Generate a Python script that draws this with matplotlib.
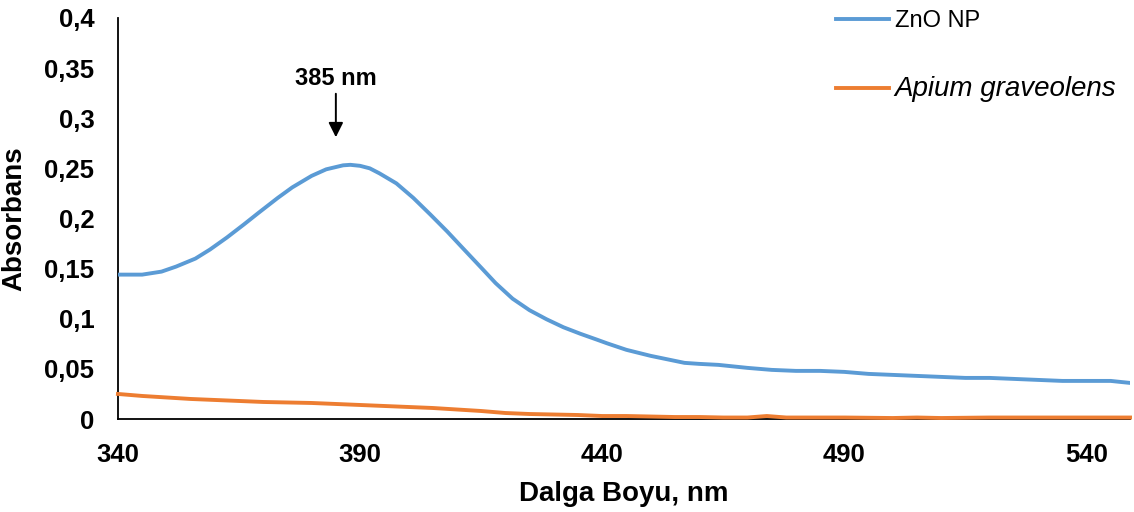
import matplotlib
matplotlib.use('Agg')
import matplotlib.pyplot as plt

plt.rcParams['font.family'] = ['Liberation Sans', 'DejaVu Sans']

# ZnO NP absorbance
wl_zno = [340, 345, 349, 352, 356, 359, 362.5, 366, 369, 373, 376, 380, 383,
          386.5, 388, 390, 392, 394, 397.5, 401, 404.5, 408, 411, 415, 418,
          421.5, 425, 428.5, 432, 435.5, 439, 441, 445, 450, 455, 457, 460,
          464, 470, 475, 480, 485, 490, 495, 500, 505, 510, 515, 520, 525,
          530, 535, 540, 545, 549]
abs_zno = [0.144, 0.144, 0.147, 0.152, 0.160, 0.169, 0.181, 0.194, 0.2055,
           0.2205, 0.231, 0.2425, 0.249, 0.253, 0.2535, 0.2525, 0.250, 0.245,
           0.235, 0.2205, 0.204, 0.187, 0.1715, 0.151, 0.1355, 0.120, 0.1085,
           0.0995, 0.0915, 0.085, 0.079, 0.0755, 0.069, 0.063, 0.058, 0.056,
           0.055, 0.054, 0.051, 0.049, 0.048, 0.048, 0.047, 0.045, 0.044,
           0.043, 0.042, 0.041, 0.041, 0.040, 0.039, 0.038, 0.038, 0.038,
           0.036]

# Apium graveolens extract absorbance
wl_apium = [340, 345, 350, 355, 360, 365, 370, 375, 380, 385, 390, 395, 400,
            405, 410, 415, 420, 425, 430, 435, 440, 445, 450, 455, 460, 465,
            470, 474, 478, 485, 490, 500, 505, 510, 520, 530, 540, 549]
abs_apium = [0.025, 0.023, 0.0215, 0.020, 0.019, 0.018, 0.017, 0.0165, 0.016,
             0.015, 0.014, 0.013, 0.012, 0.011, 0.0095, 0.008, 0.006, 0.005,
             0.0045, 0.004, 0.003, 0.003, 0.0025, 0.002, 0.002, 0.0015,
             0.0015, 0.003, 0.0015, 0.0015, 0.0015, 0.001, 0.0015, 0.001,
             0.0015, 0.0015, 0.0015, 0.0015]

xticks = [340, 390, 440, 490, 540]
yticks = [0, 0.05, 0.1, 0.15, 0.2, 0.25, 0.3, 0.35, 0.4]
ytick_labels = ['0', '0,05', '0,1', '0,15', '0,2', '0,25', '0,3', '0,35', '0,4']

fig = plt.figure(figsize=(11.34, 5.12), dpi=100)
ax = fig.add_axes([0.104, 0.1816, 0.8925, 0.7834])

ax.plot(wl_zno, abs_zno, color='#5B9BD5', lw=2.8, label='ZnO NP', zorder=3,
        solid_joinstyle='round')
ax.plot(wl_apium, abs_apium, color='#ED7D31', lw=2.8, label='Apium graveolens',
        zorder=3, clip_on=False, solid_joinstyle='round')

ax.set_xlim(340, 549)
ax.set_ylim(0, 0.4)
ax.set_xticks(xticks)
ax.set_xticklabels([str(t) for t in xticks])
ax.set_yticks(yticks)
ax.set_yticklabels(ytick_labels)
ax.tick_params(length=0, labelsize=18.5, pad=17)
for lab in ax.get_xticklabels() + ax.get_yticklabels():
    lab.set_fontweight('bold')

for s in ['top', 'right']:
    ax.spines[s].set_visible(False)
for s in ['left', 'bottom']:
    ax.spines[s].set_linewidth(1.3)
    ax.spines[s].set_color('black')

ax.set_xlabel('Dalga Boyu, nm', fontsize=20, fontweight='bold', labelpad=10)
ax.set_ylabel('Absorbans', fontsize=20, fontweight='bold', labelpad=12)

# peak marker
ax.annotate('385 nm', xy=(385, 0.281), xytext=(385, 0.340),
            ha='center', va='center', fontsize=17, fontweight='bold',
            arrowprops=dict(arrowstyle='-|>', color='black', lw=1.4,
                            mutation_scale=22, shrinkA=1, shrinkB=0))

leg = ax.legend(loc='upper left', bbox_to_anchor=(0.737, 0.98),
                bbox_transform=fig.transFigure, frameon=False, fontsize=17,
                handlelength=2.25, handletextpad=0.25, labelspacing=1.85,
                borderpad=0, borderaxespad=0)
leg.get_texts()[1].set_fontsize(20)
leg.get_texts()[1].set_fontstyle('italic')

fig.savefig('out.png', dpi=100)
